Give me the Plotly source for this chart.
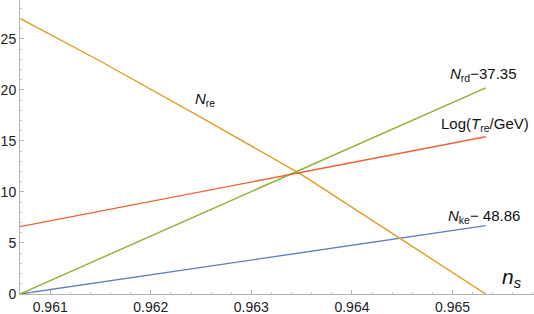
import plotly.graph_objects as go

ns = [0.9607, 0.9615, 0.9625, 0.9635, 0.9645, 0.96533]
n_ke = [0.0, 1.16, 2.61, 4.05, 5.50, 6.70]
n_re = [27.0, 22.8, 17.3, 11.7, 5.3, 0.0]
n_rd = [0.0, 3.50, 7.86, 12.23, 16.59, 20.20]
log_tre = [6.6, 8.12, 10.02, 11.92, 13.82, 15.40]

x_ticks = [0.961, 0.962, 0.963, 0.964, 0.965]
x_ticklabels = ["0.961", "0.962", "0.963", "0.964", "0.965"]
y_ticks = [0, 5, 10, 15, 20, 25]

series = [
    (n_ke, "#5E81B5"),
    (n_re, "#E19C24"),
    (n_rd, "#8FB032"),
    (log_tre, "#EB6235"),
]

W, H = 534, 314
ML, MB = 20, 20

fig = go.Figure()
for vals, col in series:
    fig.add_trace(go.Scatter(x=ns, y=vals, mode="lines",
                             line=dict(color=col, width=1.4),
                             showlegend=False, hoverinfo="skip"))

family = "Liberation Sans, Arial, sans-serif"
ann = [
    ("<i>N</i><sub>re</sub>", 205, 100, 15),
    ("<i>N</i><sub>rd</sub>\u221237.35", 483, 75, 15),
    ("Log(<i>T</i><sub>re</sub>/GeV)", 485, 125, 15),
    ("<i>N</i><sub>ke</sub>\u2212 48.86", 484, 216, 15),
    ("<i>n<sub>s</sub></i>", 512, 278, 21),
]
pw, ph = W - ML, H - MB
for txt, px, py, fs in ann:
    fig.add_annotation(text=txt, x=(px - ML) / pw, y=1 - py / ph,
                       xref="paper", yref="paper", xanchor="center",
                       yanchor="middle", showarrow=False,
                       font=dict(family=family, size=fs, color="#111"))

fig.update_layout(
    width=W, height=H,
    margin=dict(l=ML, r=0, t=0, b=MB),
    plot_bgcolor="white", paper_bgcolor="white",
    font=dict(family=family, size=14, color="#222"),
    xaxis=dict(range=[0.9607, 0.96581], tickvals=x_ticks, ticktext=x_ticklabels,
               showline=True, linecolor="#b4b4b4", linewidth=1,
               ticks="inside", ticklen=4, tickcolor="#b4b4b4",
               minor=dict(dtick=0.0002, tick0=0.961, ticks="inside", ticklen=2,
                          tickcolor="#c8c8c8", showgrid=False),
               showgrid=False, zeroline=False, automargin=False),
    yaxis=dict(range=[0, 28.8], tickvals=y_ticks,
               showline=True, linecolor="#b4b4b4", linewidth=1,
               ticks="inside", ticklen=4, tickcolor="#b4b4b4",
               minor=dict(dtick=1, ticks="inside", ticklen=2,
                          tickcolor="#c8c8c8", showgrid=False),
               showgrid=False, zeroline=False, automargin=False),
)

fig.write_html("out.html",
               config={"displayModeBar": False, "staticPlot": True},
               post_script="document.body.style.margin='0';"
                           "document.body.style.overflow='hidden';")
